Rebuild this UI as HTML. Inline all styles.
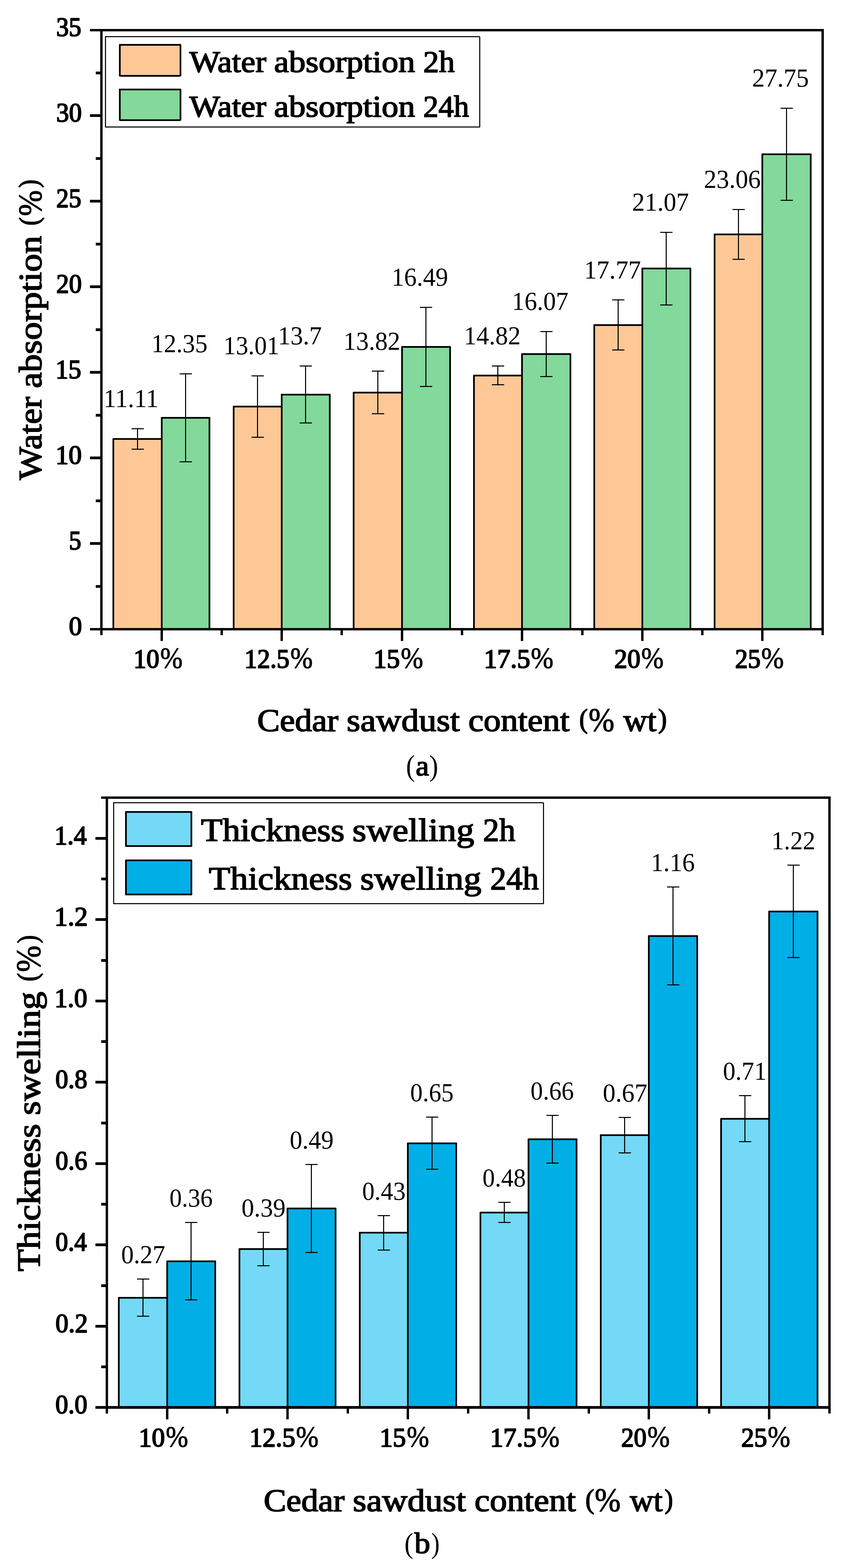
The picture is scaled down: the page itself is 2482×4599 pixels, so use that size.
<!DOCTYPE html>
<html lang="en"><head><meta charset="utf-8"><title>Water absorption and thickness swelling versus cedar sawdust content</title>
<style>html,body{margin:0;padding:0;background:#fff}svg{display:block}text{font-family:"Liberation Serif", serif;fill:#000}</style></head><body>
<svg width="2482" height="4599" viewBox="0 0 2482 4599" role="img">
<rect width="2482" height="4599" fill="#fff"/>
<g stroke="#000" stroke-width="5" stroke-linejoin="round" shape-rendering="crispEdges">
<rect x="332.5" y="1287.5" width="142" height="557" fill="#FEC896"/>
<rect x="474.5" y="1225.5" width="140" height="619" fill="#82D99B"/>
<rect x="685.5" y="1192.5" width="141" height="652" fill="#FEC896"/>
<rect x="826.5" y="1157.5" width="141" height="687" fill="#82D99B"/>
<rect x="1037.5" y="1151.5" width="142" height="693" fill="#FEC896"/>
<rect x="1179.5" y="1017.5" width="141" height="827" fill="#82D99B"/>
<rect x="1390.5" y="1101.5" width="141" height="743" fill="#FEC896"/>
<rect x="1531.5" y="1038.5" width="142" height="806" fill="#82D99B"/>
<rect x="1743.5" y="953.5" width="141" height="891" fill="#FEC896"/>
<rect x="1884.5" y="787.5" width="141" height="1057" fill="#82D99B"/>
<rect x="2096.5" y="687.5" width="140" height="1157" fill="#FEC896"/>
<rect x="2236.5" y="452.5" width="142" height="1392" fill="#82D99B"/>
</g>
<g stroke="#000" stroke-width="3" fill="none" shape-rendering="crispEdges">
<path d="M403.5 1257.5V1317.5M385.5 1257.5h36M385.5 1317.5h36"/>
<path d="M544.5 1096.5V1354.5M526.5 1096.5h36M526.5 1354.5h36"/>
<path d="M755.5 1102.5V1282.5M737.5 1102.5h36M737.5 1282.5h36"/>
<path d="M896.5 1073.5V1240.5M878.5 1073.5h36M878.5 1240.5h36"/>
<path d="M1108.5 1088.5V1213.5M1090.5 1088.5h36M1090.5 1213.5h36"/>
<path d="M1249.5 901.5V1133.5M1231.5 901.5h36M1231.5 1133.5h36"/>
<path d="M1460.5 1073.5V1128.5M1442.5 1073.5h36M1442.5 1128.5h36"/>
<path d="M1602.5 972.5V1104.5M1584.5 972.5h36M1584.5 1104.5h36"/>
<path d="M1813.5 879.5V1026.5M1795.5 879.5h36M1795.5 1026.5h36"/>
<path d="M1954.5 681.5V894.5M1936.5 681.5h36M1936.5 894.5h36"/>
<path d="M2166.5 614.5V760.5M2148.5 614.5h36M2148.5 760.5h36"/>
<path d="M2307.5 317.5V587.5M2289.5 317.5h36M2289.5 587.5h36"/>
</g>
<g fill="#000" shape-rendering="crispEdges">
<rect x="294" y="85" width="2123" height="7"/>
<rect x="294" y="1842" width="2123" height="7"/>
<rect x="294" y="85" width="7" height="1764"/>
<rect x="2410" y="85" width="7" height="1764"/>
<rect x="471" y="1849" width="7" height="31"/>
<rect x="823" y="1849" width="7" height="31"/>
<rect x="1176" y="1849" width="7" height="31"/>
<rect x="1528" y="1849" width="7" height="31"/>
<rect x="1881" y="1849" width="7" height="31"/>
<rect x="2233" y="1849" width="7" height="31"/>
<rect x="294" y="1849" width="7" height="14"/>
<rect x="647" y="1849" width="7" height="14"/>
<rect x="999" y="1849" width="7" height="14"/>
<rect x="1352" y="1849" width="7" height="14"/>
<rect x="1705" y="1849" width="7" height="14"/>
<rect x="2057" y="1849" width="7" height="14"/>
<rect x="2410" y="1849" width="7" height="14"/>
<rect x="264" y="1842" width="31" height="7"/>
<rect x="264" y="1590" width="31" height="8"/>
<rect x="264" y="1339" width="31" height="8"/>
<rect x="264" y="1088" width="31" height="8"/>
<rect x="264" y="837" width="31" height="8"/>
<rect x="264" y="586" width="31" height="8"/>
<rect x="264" y="335" width="31" height="8"/>
<rect x="264" y="85" width="31" height="7"/>
<rect x="281" y="1716" width="14" height="8"/>
<rect x="281" y="1465" width="14" height="8"/>
<rect x="281" y="1214" width="14" height="8"/>
<rect x="281" y="963" width="14" height="8"/>
<rect x="281" y="712" width="14" height="8"/>
<rect x="281" y="461" width="14" height="8"/>
<rect x="281" y="210" width="14" height="8"/>
</g>
<g stroke="#000" stroke-width="5" stroke-linejoin="round" shape-rendering="crispEdges">
<rect x="348.5" y="3806.5" width="142" height="320" fill="#73D9F6"/>
<rect x="490.5" y="3699.5" width="141" height="427" fill="#00AFE6"/>
<rect x="702.5" y="3663.5" width="141" height="463" fill="#73D9F6"/>
<rect x="843.5" y="3544.5" width="141" height="582" fill="#00AFE6"/>
<rect x="1055.5" y="3615.5" width="141" height="511" fill="#73D9F6"/>
<rect x="1196.5" y="3353.5" width="142" height="773" fill="#00AFE6"/>
<rect x="1409.5" y="3556.5" width="141" height="570" fill="#73D9F6"/>
<rect x="1550.5" y="3341.5" width="141" height="785" fill="#00AFE6"/>
<rect x="1762.5" y="3329.5" width="141" height="797" fill="#73D9F6"/>
<rect x="1903.5" y="2745.5" width="142" height="1381" fill="#00AFE6"/>
<rect x="2115.5" y="3281.5" width="141" height="845" fill="#73D9F6"/>
<rect x="2256.5" y="2673.5" width="142" height="1453" fill="#00AFE6"/>
</g>
<g stroke="#000" stroke-width="3" fill="none" shape-rendering="crispEdges">
<path d="M419.5 3751.5V3860.5M401.5 3751.5h36M401.5 3860.5h36"/>
<path d="M560.5 3585.5V3812.5M542.5 3585.5h36M542.5 3812.5h36"/>
<path d="M772.5 3614.5V3712.5M754.5 3614.5h36M754.5 3712.5h36"/>
<path d="M913.5 3415.5V3673.5M895.5 3415.5h36M895.5 3673.5h36"/>
<path d="M1125.5 3565.5V3666.5M1107.5 3565.5h36M1107.5 3666.5h36"/>
<path d="M1267.5 3276.5V3429.5M1249.5 3276.5h36M1249.5 3429.5h36"/>
<path d="M1479.5 3526.5V3585.5M1461.5 3526.5h36M1461.5 3585.5h36"/>
<path d="M1620.5 3271.5V3411.5M1602.5 3271.5h36M1602.5 3411.5h36"/>
<path d="M1832.5 3277.5V3381.5M1814.5 3277.5h36M1814.5 3381.5h36"/>
<path d="M1974.5 2601.5V2888.5M1956.5 2601.5h36M1956.5 2888.5h36"/>
<path d="M2185.5 3213.5V3348.5M2167.5 3213.5h36M2167.5 3348.5h36"/>
<path d="M2327.5 2537.5V2808.5M2309.5 2537.5h36M2309.5 2808.5h36"/>
</g>
<g fill="#000" shape-rendering="crispEdges">
<rect x="310" y="2336" width="2127" height="7"/>
<rect x="310" y="4124" width="2127" height="8"/>
<rect x="310" y="2336" width="7" height="1796"/>
<rect x="2430" y="2336" width="7" height="1796"/>
<rect x="487" y="4132" width="7" height="31"/>
<rect x="840" y="4132" width="7" height="31"/>
<rect x="1193" y="4132" width="7" height="31"/>
<rect x="1547" y="4132" width="7" height="31"/>
<rect x="1900" y="4132" width="7" height="31"/>
<rect x="2253" y="4132" width="7" height="31"/>
<rect x="310" y="4132" width="7" height="14"/>
<rect x="663" y="4132" width="7" height="14"/>
<rect x="1017" y="4132" width="7" height="14"/>
<rect x="1370" y="4132" width="7" height="14"/>
<rect x="1724" y="4132" width="7" height="14"/>
<rect x="2077" y="4132" width="7" height="14"/>
<rect x="2430" y="4132" width="7" height="14"/>
<rect x="280" y="4124" width="31" height="8"/>
<rect x="280" y="3886" width="31" height="8"/>
<rect x="280" y="3647" width="31" height="8"/>
<rect x="280" y="3409" width="31" height="8"/>
<rect x="280" y="3170" width="31" height="8"/>
<rect x="280" y="2932" width="31" height="8"/>
<rect x="280" y="2693" width="31" height="8"/>
<rect x="280" y="2455" width="31" height="8"/>
<rect x="297" y="4005" width="14" height="8"/>
<rect x="297" y="3767" width="14" height="8"/>
<rect x="297" y="3528" width="14" height="8"/>
<rect x="297" y="3290" width="14" height="8"/>
<rect x="297" y="3051" width="14" height="8"/>
<rect x="297" y="2813" width="14" height="8"/>
<rect x="297" y="2574" width="14" height="8"/>
<rect x="297" y="2336" width="14" height="7"/>
</g>
<g shape-rendering="crispEdges" stroke="#000" stroke-linejoin="round">
<rect x="309.5" y="107.5" width="1097.5" height="265" fill="#fff" stroke-width="3"/>
<rect x="351.5" y="131.5" width="177.5" height="90.5" fill="#FEC896" stroke-width="5"/>
<rect x="351.5" y="262" width="177.5" height="90" fill="#82D99B" stroke-width="5"/>
<rect x="333.5" y="2354.5" width="1260.5" height="296" fill="#fff" stroke-width="3"/>
<rect x="369.5" y="2381.5" width="192" height="100" fill="#73D9F6" stroke-width="5"/>
<rect x="369.5" y="2523.5" width="192" height="100" fill="#00AFE6" stroke-width="5"/>
</g>
<text x="303.63" y="1194.1" font-size="77" textLength="161.53" lengthAdjust="spacingAndGlyphs">11.11</text>
<text x="444.3" y="1033" font-size="77" textLength="164.36" lengthAdjust="spacingAndGlyphs">12.35</text>
<text x="655.61" y="1039.1" font-size="77" textLength="163.64" lengthAdjust="spacingAndGlyphs">13.01</text>
<text x="815.61" y="1010" font-size="77" textLength="128.46" lengthAdjust="spacingAndGlyphs">13.7</text>
<text x="1007.6" y="1025.6" font-size="77" textLength="166.75" lengthAdjust="spacingAndGlyphs">13.82</text>
<text x="1148.68" y="838" font-size="77" textLength="166.04" lengthAdjust="spacingAndGlyphs">16.49</text>
<text x="1360.76" y="1010" font-size="77" textLength="166.7" lengthAdjust="spacingAndGlyphs">14.82</text>
<text x="1501.82" y="908.9" font-size="77" textLength="165.9" lengthAdjust="spacingAndGlyphs">16.07</text>
<text x="1713.51" y="816.5" font-size="77" textLength="166.85" lengthAdjust="spacingAndGlyphs">17.77</text>
<text x="1854.43" y="618.3" font-size="77" textLength="166.62" lengthAdjust="spacingAndGlyphs">21.07</text>
<text x="2064.9" y="551" font-size="77" textLength="167.04" lengthAdjust="spacingAndGlyphs">23.06</text>
<text x="2206.4" y="253.9" font-size="77" textLength="166.61" lengthAdjust="spacingAndGlyphs">27.75</text>
<text x="355.41" y="3704.6" font-size="77" textLength="129.39" lengthAdjust="spacingAndGlyphs">0.27</text>
<text x="497.21" y="3538.8" font-size="77" textLength="126.68" lengthAdjust="spacingAndGlyphs">0.36</text>
<text x="708.59" y="3567.6" font-size="77" textLength="129.28" lengthAdjust="spacingAndGlyphs">0.39</text>
<text x="849.98" y="3368.7" font-size="77" textLength="128.97" lengthAdjust="spacingAndGlyphs">0.49</text>
<text x="1062.39" y="3518.7" font-size="77" textLength="127.5" lengthAdjust="spacingAndGlyphs">0.43</text>
<text x="1203.6" y="3229.5" font-size="77" textLength="127.3" lengthAdjust="spacingAndGlyphs">0.65</text>
<text x="1415.58" y="3479.5" font-size="77" textLength="127.3" lengthAdjust="spacingAndGlyphs">0.48</text>
<text x="1556.6" y="3224.8" font-size="77" textLength="127.09" lengthAdjust="spacingAndGlyphs">0.66</text>
<text x="1768.4" y="3230.5" font-size="77" textLength="130.62" lengthAdjust="spacingAndGlyphs">0.67</text>
<text x="1909.41" y="2554.6" font-size="77" textLength="129.07" lengthAdjust="spacingAndGlyphs">1.16</text>
<text x="2120.93" y="3166.5" font-size="77" textLength="128.19" lengthAdjust="spacingAndGlyphs">0.71</text>
<text x="2263.34" y="2491" font-size="77" textLength="128.54" lengthAdjust="spacingAndGlyphs">1.22</text>
<text><tspan x="391.53" y="1957.6" font-size="77.4" textLength="76.11" lengthAdjust="spacingAndGlyphs" stroke="#000" stroke-width="3" stroke-linejoin="round">10</tspan><tspan x="469.97" y="1958.84" font-size="86.73" textLength="65.75" lengthAdjust="spacingAndGlyphs" stroke="#000" stroke-width="1.5" stroke-linejoin="round">%</tspan></text>
<text><tspan x="717.06" y="1957.6" font-size="77.4" textLength="132.3" lengthAdjust="spacingAndGlyphs" stroke="#000" stroke-width="3" stroke-linejoin="round">12.5</tspan><tspan x="851.78" y="1958.84" font-size="86.73" textLength="65.74" lengthAdjust="spacingAndGlyphs" stroke="#000" stroke-width="1.5" stroke-linejoin="round">%</tspan></text>
<text><tspan x="1095.77" y="1957.6" font-size="77.4" textLength="77.31" lengthAdjust="spacingAndGlyphs" stroke="#000" stroke-width="3" stroke-linejoin="round">15</tspan><tspan x="1175.78" y="1958.84" font-size="86.73" textLength="65.74" lengthAdjust="spacingAndGlyphs" stroke="#000" stroke-width="1.5" stroke-linejoin="round">%</tspan></text>
<text><tspan x="1419.52" y="1957.6" font-size="77.4" textLength="136.27" lengthAdjust="spacingAndGlyphs" stroke="#000" stroke-width="3" stroke-linejoin="round">17.5</tspan><tspan x="1557.35" y="1959.23" font-size="87.31" textLength="66.39" lengthAdjust="spacingAndGlyphs" stroke="#000" stroke-width="1.5" stroke-linejoin="round">%</tspan></text>
<text><tspan x="1801.99" y="1957.6" font-size="77.4" textLength="76.96" lengthAdjust="spacingAndGlyphs" stroke="#000" stroke-width="3" stroke-linejoin="round">20</tspan><tspan x="1881.37" y="1958.84" font-size="86.73" textLength="65.75" lengthAdjust="spacingAndGlyphs" stroke="#000" stroke-width="1.5" stroke-linejoin="round">%</tspan></text>
<text><tspan x="2156.6" y="1957.6" font-size="77.4" textLength="74.88" lengthAdjust="spacingAndGlyphs" stroke="#000" stroke-width="3" stroke-linejoin="round">25</tspan><tspan x="2233.35" y="1959.23" font-size="87.31" textLength="66.39" lengthAdjust="spacingAndGlyphs" stroke="#000" stroke-width="1.5" stroke-linejoin="round">%</tspan></text>
<text><tspan x="406.74" y="4241.6" font-size="77.4" textLength="77.15" lengthAdjust="spacingAndGlyphs" stroke="#000" stroke-width="3" stroke-linejoin="round">10</tspan><tspan x="486.37" y="4242.84" font-size="86.73" textLength="65.75" lengthAdjust="spacingAndGlyphs" stroke="#000" stroke-width="1.5" stroke-linejoin="round">%</tspan></text>
<text><tspan x="731.63" y="4241.6" font-size="77.4" textLength="134.91" lengthAdjust="spacingAndGlyphs" stroke="#000" stroke-width="3" stroke-linejoin="round">12.5</tspan><tspan x="868.35" y="4243.23" font-size="87.31" textLength="66.39" lengthAdjust="spacingAndGlyphs" stroke="#000" stroke-width="1.5" stroke-linejoin="round">%</tspan></text>
<text><tspan x="1113.74" y="4241.6" font-size="77.4" textLength="77.15" lengthAdjust="spacingAndGlyphs" stroke="#000" stroke-width="3" stroke-linejoin="round">15</tspan><tspan x="1193.37" y="4242.84" font-size="86.73" textLength="65.75" lengthAdjust="spacingAndGlyphs" stroke="#000" stroke-width="1.5" stroke-linejoin="round">%</tspan></text>
<text><tspan x="1437.63" y="4241.6" font-size="77.4" textLength="135.95" lengthAdjust="spacingAndGlyphs" stroke="#000" stroke-width="3" stroke-linejoin="round">17.5</tspan><tspan x="1575.35" y="4243.23" font-size="87.31" textLength="66.39" lengthAdjust="spacingAndGlyphs" stroke="#000" stroke-width="1.5" stroke-linejoin="round">%</tspan></text>
<text><tspan x="1822.2" y="4241.6" font-size="77.4" textLength="74.67" lengthAdjust="spacingAndGlyphs" stroke="#000" stroke-width="3" stroke-linejoin="round">20</tspan><tspan x="1899.37" y="4242.84" font-size="86.73" textLength="65.75" lengthAdjust="spacingAndGlyphs" stroke="#000" stroke-width="1.5" stroke-linejoin="round">%</tspan></text>
<text><tspan x="2174.6" y="4241.6" font-size="77.4" textLength="75.92" lengthAdjust="spacingAndGlyphs" stroke="#000" stroke-width="3" stroke-linejoin="round">25</tspan><tspan x="2252.35" y="4243.23" font-size="87.31" textLength="66.39" lengthAdjust="spacingAndGlyphs" stroke="#000" stroke-width="1.5" stroke-linejoin="round">%</tspan></text>
<text x="164.99" y="105.3" font-size="77.4" textLength="73.43" lengthAdjust="spacingAndGlyphs" stroke="#000" stroke-width="3" stroke-linejoin="round">35</text>
<text x="165" y="356.3" font-size="77.4" textLength="74.88" lengthAdjust="spacingAndGlyphs" stroke="#000" stroke-width="3" stroke-linejoin="round">30</text>
<text x="164.99" y="607.3" font-size="77.4" textLength="73.43" lengthAdjust="spacingAndGlyphs" stroke="#000" stroke-width="3" stroke-linejoin="round">25</text>
<text x="165" y="858.3" font-size="77.4" textLength="74.88" lengthAdjust="spacingAndGlyphs" stroke="#000" stroke-width="3" stroke-linejoin="round">20</text>
<text x="162.75" y="1109.3" font-size="77.4" textLength="75.68" lengthAdjust="spacingAndGlyphs" stroke="#000" stroke-width="3" stroke-linejoin="round">15</text>
<text x="162.78" y="1360.3" font-size="77.4" textLength="77.13" lengthAdjust="spacingAndGlyphs" stroke="#000" stroke-width="3" stroke-linejoin="round">10</text>
<text x="202.26" y="1611.3" font-size="77.4" textLength="36.06" lengthAdjust="spacingAndGlyphs" stroke="#000" stroke-width="3" stroke-linejoin="round">5</text>
<text x="201.93" y="1862.3" font-size="77.4" textLength="38.55" lengthAdjust="spacingAndGlyphs" stroke="#000" stroke-width="3" stroke-linejoin="round">0</text>
<text x="162.42" y="4145.3" font-size="77.4" textLength="93.83" lengthAdjust="spacingAndGlyphs" stroke="#000" stroke-width="3" stroke-linejoin="round">0.0</text>
<text x="162.8" y="3906.77" font-size="77.4" textLength="95.06" lengthAdjust="spacingAndGlyphs" stroke="#000" stroke-width="3" stroke-linejoin="round">0.2</text>
<text x="162.84" y="3668.23" font-size="77.4" textLength="92.03" lengthAdjust="spacingAndGlyphs" stroke="#000" stroke-width="3" stroke-linejoin="round">0.4</text>
<text x="162.83" y="3429.7" font-size="77.4" textLength="93.02" lengthAdjust="spacingAndGlyphs" stroke="#000" stroke-width="3" stroke-linejoin="round">0.6</text>
<text x="162.42" y="3191.17" font-size="77.4" textLength="93.83" lengthAdjust="spacingAndGlyphs" stroke="#000" stroke-width="3" stroke-linejoin="round">0.8</text>
<text x="159.66" y="2952.63" font-size="77.4" textLength="96.58" lengthAdjust="spacingAndGlyphs" stroke="#000" stroke-width="3" stroke-linejoin="round">1.0</text>
<text x="159.48" y="2714.1" font-size="77.4" textLength="98.17" lengthAdjust="spacingAndGlyphs" stroke="#000" stroke-width="3" stroke-linejoin="round">1.2</text>
<text x="159.65" y="2475.57" font-size="77.4" textLength="94.87" lengthAdjust="spacingAndGlyphs" stroke="#000" stroke-width="3" stroke-linejoin="round">1.4</text>
<text><tspan x="555.43" y="211.3" font-size="89.5" textLength="225.91" lengthAdjust="spacingAndGlyphs" stroke="#000" stroke-width="2.6" stroke-linejoin="round">Water</tspan> <tspan x="803.96" y="211.3" font-size="89.5" textLength="413.9" lengthAdjust="spacingAndGlyphs" stroke="#000" stroke-width="2.6" stroke-linejoin="round">absorption</tspan> <tspan x="1241.43" y="211.3" font-size="89.5" textLength="92.78" lengthAdjust="spacingAndGlyphs" stroke="#000" stroke-width="2.6" stroke-linejoin="round">2h</tspan></text>
<text><tspan x="555.43" y="341.5" font-size="89.5" textLength="225.91" lengthAdjust="spacingAndGlyphs" stroke="#000" stroke-width="2.6" stroke-linejoin="round">Water</tspan> <tspan x="803.96" y="341.5" font-size="89.5" textLength="413.9" lengthAdjust="spacingAndGlyphs" stroke="#000" stroke-width="2.6" stroke-linejoin="round">absorption</tspan> <tspan x="1241.45" y="341.5" font-size="89.5" textLength="134.82" lengthAdjust="spacingAndGlyphs" stroke="#000" stroke-width="2.6" stroke-linejoin="round">24h</tspan></text>
<text><tspan x="589.61" y="2466.6" font-size="95.5" textLength="421.27" lengthAdjust="spacingAndGlyphs" stroke="#000" stroke-width="2.6" stroke-linejoin="round">Thickness</tspan> <tspan x="1033.89" y="2466.6" font-size="95.5" textLength="357.64" lengthAdjust="spacingAndGlyphs" stroke="#000" stroke-width="2.6" stroke-linejoin="round">swelling</tspan> <tspan x="1416.83" y="2466.6" font-size="95.5" textLength="95.28" lengthAdjust="spacingAndGlyphs" stroke="#000" stroke-width="2.6" stroke-linejoin="round">2h</tspan></text>
<text><tspan x="612.43" y="2608.6" font-size="95.5" textLength="420.6" lengthAdjust="spacingAndGlyphs" stroke="#000" stroke-width="2.6" stroke-linejoin="round">Thickness</tspan> <tspan x="1056.88" y="2608.6" font-size="95.5" textLength="355.62" lengthAdjust="spacingAndGlyphs" stroke="#000" stroke-width="2.6" stroke-linejoin="round">swelling</tspan> <tspan x="1438.05" y="2608.6" font-size="95.5" textLength="142.73" lengthAdjust="spacingAndGlyphs" stroke="#000" stroke-width="2.6" stroke-linejoin="round">24h</tspan></text>
<text><tspan x="754.48" y="2143.6" font-size="93" textLength="238.37" lengthAdjust="spacingAndGlyphs" stroke="#000" stroke-width="2.6" stroke-linejoin="round">Cedar</tspan> <tspan x="1017.08" y="2143.6" font-size="93" textLength="332.16" lengthAdjust="spacingAndGlyphs" stroke="#000" stroke-width="2.6" stroke-linejoin="round">sawdust</tspan> <tspan x="1374.07" y="2143.6" font-size="93" textLength="297.01" lengthAdjust="spacingAndGlyphs" stroke="#000" stroke-width="2.6" stroke-linejoin="round">content</tspan> <tspan x="1699.41" y="2135.4" font-size="79.58" textLength="24.96" lengthAdjust="spacingAndGlyphs" stroke="#000" stroke-width="2.6" stroke-linejoin="round">(</tspan><tspan x="1726.76" y="2144.24" font-size="98.11" textLength="75.74" lengthAdjust="spacingAndGlyphs" stroke="#000" stroke-width="1.8" stroke-linejoin="round">%</tspan> <tspan x="1828.72" y="2143.6" font-size="93" textLength="97.33" lengthAdjust="spacingAndGlyphs" stroke="#000" stroke-width="2.6" stroke-linejoin="round">wt</tspan><tspan x="1930.67" y="2135.15" font-size="80.6" textLength="25.68" lengthAdjust="spacingAndGlyphs" stroke="#000" stroke-width="2.6" stroke-linejoin="round">)</tspan></text>
<text><tspan x="773.48" y="4432.2" font-size="93" textLength="237.39" lengthAdjust="spacingAndGlyphs" stroke="#000" stroke-width="2.6" stroke-linejoin="round">Cedar</tspan> <tspan x="1035.1" y="4432.2" font-size="93" textLength="332.16" lengthAdjust="spacingAndGlyphs" stroke="#000" stroke-width="2.6" stroke-linejoin="round">sawdust</tspan> <tspan x="1392.09" y="4432.2" font-size="93" textLength="297.61" lengthAdjust="spacingAndGlyphs" stroke="#000" stroke-width="2.6" stroke-linejoin="round">content</tspan> <tspan x="1717.5" y="4424.38" font-size="81.03" textLength="25.78" lengthAdjust="spacingAndGlyphs" stroke="#000" stroke-width="2.6" stroke-linejoin="round">(</tspan><tspan x="1744.65" y="4432.12" font-size="97" textLength="76.17" lengthAdjust="spacingAndGlyphs" stroke="#000" stroke-width="1.8" stroke-linejoin="round">%</tspan> <tspan x="1847.67" y="4432.2" font-size="93" textLength="96.42" lengthAdjust="spacingAndGlyphs" stroke="#000" stroke-width="2.6" stroke-linejoin="round">wt</tspan><tspan x="1949.99" y="4423.93" font-size="80.81" textLength="24.4" lengthAdjust="spacingAndGlyphs" stroke="#000" stroke-width="2.6" stroke-linejoin="round">)</tspan></text>
<text transform="rotate(-90)"><tspan x="-1408.05" y="121.3" font-size="95.5" textLength="244.54" lengthAdjust="spacingAndGlyphs" stroke="#000" stroke-width="2.6" stroke-linejoin="round">Water</tspan> <tspan x="-1138.74" y="121.3" font-size="95.5" textLength="447.11" lengthAdjust="spacingAndGlyphs" stroke="#000" stroke-width="2.6" stroke-linejoin="round">absorption</tspan> <tspan x="-661.17" y="112.18" font-size="80.26" textLength="23.82" lengthAdjust="spacingAndGlyphs" stroke="#000" stroke-width="2.6" stroke-linejoin="round">(</tspan><tspan x="-633.72" y="120.85" font-size="98.35" textLength="75.83" lengthAdjust="spacingAndGlyphs" stroke="#000" stroke-width="1.8" stroke-linejoin="round">%</tspan><tspan x="-550.61" y="111.41" font-size="80.04" textLength="23.65" lengthAdjust="spacingAndGlyphs" stroke="#000" stroke-width="2.6" stroke-linejoin="round">)</tspan></text>
<text transform="rotate(-90)"><tspan x="-3729.37" y="116.7" font-size="95.5" textLength="432.9" lengthAdjust="spacingAndGlyphs" stroke="#000" stroke-width="2.6" stroke-linejoin="round">Thickness</tspan> <tspan x="-3271.12" y="116.7" font-size="95.5" textLength="362.67" lengthAdjust="spacingAndGlyphs" stroke="#000" stroke-width="2.6" stroke-linejoin="round">swelling</tspan> <tspan x="-2878.19" y="108.3" font-size="83.49" textLength="24.29" lengthAdjust="spacingAndGlyphs" stroke="#000" stroke-width="2.6" stroke-linejoin="round">(</tspan><tspan x="-2851.02" y="117.76" font-size="101.49" textLength="77.8" lengthAdjust="spacingAndGlyphs" stroke="#000" stroke-width="1.8" stroke-linejoin="round">%</tspan><tspan x="-2766.31" y="108.04" font-size="83.3" textLength="23.15" lengthAdjust="spacingAndGlyphs" stroke="#000" stroke-width="2.6" stroke-linejoin="round">)</tspan></text>
<text><tspan x="1191.25" y="2274.61" font-size="86.45" textLength="26" lengthAdjust="spacingAndGlyphs">(</tspan><tspan x="1219.59" y="2274.4" font-size="83" textLength="39.11" lengthAdjust="spacingAndGlyphs" stroke="#000" stroke-width="2.6" stroke-linejoin="round">a</tspan><tspan x="1259.2" y="2274.61" font-size="86.45" textLength="26.35" lengthAdjust="spacingAndGlyphs">)</tspan></text>
<text><tspan x="1186.6" y="4555.33" font-size="84.9" textLength="26" lengthAdjust="spacingAndGlyphs">(</tspan><tspan x="1215.76" y="4555.3" font-size="87" textLength="46.42" lengthAdjust="spacingAndGlyphs" stroke="#000" stroke-width="2.6" stroke-linejoin="round">b</tspan><tspan x="1265.29" y="4555.33" font-size="84.9" textLength="24.72" lengthAdjust="spacingAndGlyphs">)</tspan></text>
</svg></body></html>
